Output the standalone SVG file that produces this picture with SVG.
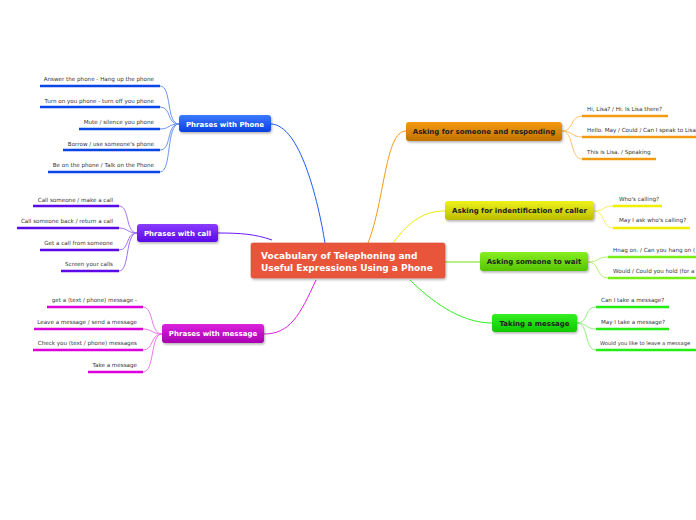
<svg xmlns="http://www.w3.org/2000/svg" width="696" height="520" viewBox="0 0 696 520">
<style>
.leaf{font-family:"DejaVu Sans",Verdana,sans-serif;font-size:5.6px;fill:#333}
.lt{font-family:"DejaVu Sans",Verdana,sans-serif;font-size:7px;font-weight:bold;text-anchor:middle}
.w{fill:#fff}
.d{fill:#222}
.c{fill:none;stroke-width:1}
.u{stroke-width:2.4;fill:none}
</style>
<defs>
<linearGradient id="gB" x1="0" y1="0" x2="0" y2="1"><stop offset="0" stop-color="#3a7bff"/><stop offset="1" stop-color="#0a3fe0"/></linearGradient>
<linearGradient id="gP" x1="0" y1="0" x2="0" y2="1"><stop offset="0" stop-color="#8a3cff"/><stop offset="1" stop-color="#5a0ae8"/></linearGradient>
<linearGradient id="gM" x1="0" y1="0" x2="0" y2="1"><stop offset="0" stop-color="#dd22dd"/><stop offset="1" stop-color="#a800b0"/></linearGradient>
<linearGradient id="gO" x1="0" y1="0" x2="0" y2="1"><stop offset="0" stop-color="#f59a10"/><stop offset="1" stop-color="#c07200"/></linearGradient>
<linearGradient id="gY" x1="0" y1="0" x2="0" y2="1"><stop offset="0" stop-color="#eef21a"/><stop offset="1" stop-color="#bcbc00"/></linearGradient>
<linearGradient id="gW" x1="0" y1="0" x2="0" y2="1"><stop offset="0" stop-color="#88ee22"/><stop offset="1" stop-color="#55c400"/></linearGradient>
<linearGradient id="gG" x1="0" y1="0" x2="0" y2="1"><stop offset="0" stop-color="#33f022"/><stop offset="1" stop-color="#10c800"/></linearGradient>
<filter id="sh" x="-10%" y="-20%" width="130%" height="160%"><feDropShadow dx="1" dy="1.5" stdDeviation="1" flood-color="#000" flood-opacity="0.3"/></filter>
</defs>

<g id="connectors">
<path class="c" stroke="#1a5cf0" d="M325,243 C318,200 300,125 271,124"/>
<path class="c" stroke="#6a1aff" d="M272,240 C255,234 240,233 218,233"/>
<path class="c" stroke="#e020e0" d="M316,280 C300,315 290,334 264,334"/>
<path class="c" stroke="#f59a10" d="M368,243 C385,200 385,131 406,131"/>
<path class="c" stroke="#e8ec00" d="M393,243 C410,220 425,211 445,211"/>
<path class="c" stroke="#77dd11" d="M445,262 L480,262"/>
<path class="c" stroke="#33ee22" d="M410,280 C430,300 460,323 492,323"/>
<g stroke="#6b95f5" class="c">
<path d="M160,86 C172,86 166,124 179,124"/>
<path d="M160,107 C172,107 166,124 179,124"/>
<path d="M160,129 C170,129 168,124 179,124"/>
<path d="M160,150 C172,150 166,124 179,124"/>
<path d="M160,172 C172,172 166,124 179,124"/>
</g>
<g stroke="#a070ff" class="c">
<path d="M119,206 C130,206 125,233 137,233"/>
<path d="M119,228 C128,228 127,233 137,233"/>
<path d="M119,250 C130,250 125,233 137,233"/>
<path d="M119,271 C130,271 125,233 137,233"/>
</g>
<g stroke="#ee77ee" class="c">
<path d="M143,307 C154,307 150,334 162,334"/>
<path d="M143,329 C152,329 152,334 162,334"/>
<path d="M143,350 C154,350 150,334 162,334"/>
<path d="M143,372 C155,372 150,334 162,334"/>
</g>
<g stroke="#ffc060" class="c">
<path d="M562,131 C574,131 570,116 582,116"/>
<path d="M562,131 C572,131 572,137 582,137"/>
<path d="M562,131 C574,131 570,159 582,159"/>
</g>
<g stroke="#f0f060" class="c">
<path d="M594,211 C605,211 602,206 613,206"/>
<path d="M594,211 C605,211 602,228 613,228"/>
</g>
<g stroke="#b0f070" class="c">
<path d="M588,262 C600,262 596,257 608,257"/>
<path d="M588,262 C600,262 596,278 608,278"/>
</g>
<g stroke="#90f080" class="c">
<path d="M577,323 C589,323 584,307 596,307"/>
<path d="M577,323 C587,323 586,329 596,329"/>
<path d="M577,323 C589,323 584,350 596,350"/>
</g>
</g>

<g id="center">
<rect x="251" y="243" width="194" height="35" rx="2" fill="#e8543b" stroke="#d84a30" stroke-width="0.6" filter="url(#sh)"/>
<text x="261" y="259" style="font-family:'DejaVu Sans',Verdana,sans-serif;font-size:9px;font-weight:bold" fill="#fff">Vocabulary of Telephoning and</text>
<text x="261" y="270.5" style="font-family:'DejaVu Sans',Verdana,sans-serif;font-size:9px;font-weight:bold" fill="#fff">Useful Expressions Using a Phone</text>
</g>

<g id="phrases-phone">
<rect x="179" y="115" width="92" height="17" rx="3" fill="url(#gB)" filter="url(#sh)"/>
<text class="lt w" x="225" y="126.5">Phrases with Phone</text>
</g>
<g id="phone-leaves">
<text class="leaf" x="154" y="81" text-anchor="end">Answer the phone - Hang up the phone</text>
<path class="u" stroke="#0a45e8" d="M40,86H160"/>
<text class="leaf" x="154" y="103" text-anchor="end">Turn on you phone - turn off you phone</text>
<path class="u" stroke="#0a45e8" d="M40,107H160"/>
<text class="leaf" x="154" y="124" text-anchor="end">Mute / silence you phone</text>
<path class="u" stroke="#0a45e8" d="M79,129H160"/>
<text class="leaf" x="154" y="146" text-anchor="end">Borrow / use someone's phone</text>
<path class="u" stroke="#0a45e8" d="M63,150H160"/>
<text class="leaf" x="154" y="167" text-anchor="end">Be on the phone / Talk on the Phone</text>
<path class="u" stroke="#0a45e8" d="M48,172H160"/>
</g>

<g id="phrases-call">
<rect x="137" y="224" width="81" height="18" rx="3" fill="url(#gP)" filter="url(#sh)"/>
<text class="lt w" x="177.5" y="236">Phrases with call</text>
</g>
<g id="call-leaves">
<text class="leaf" x="113" y="202" text-anchor="end">Call someone / make a call</text>
<path class="u" stroke="#5a0ae8" d="M33,206H119"/>
<text class="leaf" x="113" y="223" text-anchor="end">Call someone back / return a call</text>
<path class="u" stroke="#5a0ae8" d="M17,228H119"/>
<text class="leaf" x="113" y="245" text-anchor="end">Get a call from someone</text>
<path class="u" stroke="#5a0ae8" d="M40,250H119"/>
<text class="leaf" x="113" y="266" text-anchor="end">Screen your calls</text>
<path class="u" stroke="#5a0ae8" d="M61,271H119"/>
</g>

<g id="phrases-message">
<rect x="162" y="324" width="102" height="19" rx="3" fill="url(#gM)" filter="url(#sh)"/>
<text class="lt w" x="213" y="336">Phrases with message</text>
</g>
<g id="message-leaves">
<text class="leaf" x="137" y="302" text-anchor="end">get a (text / phone) message -</text>
<path class="u" stroke="#dd00dd" d="M47,307H143"/>
<text class="leaf" x="137" y="324" text-anchor="end">Leave a message / send a message</text>
<path class="u" stroke="#dd00dd" d="M34,329H143"/>
<text class="leaf" x="137" y="345" text-anchor="end">Check you (text / phone) messages</text>
<path class="u" stroke="#dd00dd" d="M33,350H143"/>
<text class="leaf" x="137" y="367" text-anchor="end">Take a message</text>
<path class="u" stroke="#dd00dd" d="M88,372H143"/>
</g>

<g id="asking-someone">
<rect x="406" y="122" width="156" height="19" rx="3" fill="url(#gO)" filter="url(#sh)"/>
<text class="lt d" x="484" y="134">Asking for someone and responding</text>
</g>
<g id="asking-leaves">
<text class="leaf" x="587" y="111">Hi, Lisa? / Hi. Is Lisa there?</text>
<path class="u" stroke="#f59a10" d="M582,116H668"/>
<text class="leaf" x="587" y="132">Hello. May / Could / Can I speak to Lisa</text>
<path class="u" stroke="#f59a10" d="M582,137H700"/>
<text class="leaf" x="587" y="154">This is Lisa. / Speaking</text>
<path class="u" stroke="#f59a10" d="M582,159H656"/>
</g>

<g id="identification">
<rect x="445" y="201" width="149" height="19" rx="3" fill="url(#gY)" filter="url(#sh)"/>
<text class="lt d" x="519.5" y="213">Asking for indentification of caller</text>
</g>
<g id="identification-leaves">
<text class="leaf" x="619" y="201">Who's calling?</text>
<path class="u" stroke="#eef000" d="M613,206H662"/>
<text class="leaf" x="619" y="222">May I ask who's calling?</text>
<path class="u" stroke="#eef000" d="M613,228H690"/>
</g>

<g id="wait">
<rect x="480" y="252" width="108" height="19" rx="3" fill="url(#gW)" filter="url(#sh)"/>
<text class="lt d" x="534" y="264">Asking someone to wait</text>
</g>
<g id="wait-leaves">
<text class="leaf" x="613" y="252">Hnag on. / Can you hang on (</text>
<path class="u" stroke="#77ee11" d="M608,257H700"/>
<text class="leaf" x="613" y="273">Would / Could you hold (for a</text>
<path class="u" stroke="#77ee11" d="M608,278H700"/>
</g>

<g id="taking">
<rect x="492" y="314" width="85" height="18" rx="3" fill="url(#gG)" filter="url(#sh)"/>
<text class="lt d" x="534.5" y="326">Taking a message</text>
</g>
<g id="taking-leaves">
<text class="leaf" x="601" y="302">Can I take a message?</text>
<path class="u" stroke="#22ee11" d="M596,307H669"/>
<text class="leaf" x="601" y="324">May I take a message?</text>
<path class="u" stroke="#22ee11" d="M596,329H669"/>
<text class="leaf" x="600" y="345" style="font-size:5.2px">Would you like to leave a message</text>
<path class="u" stroke="#22ee11" d="M596,350H700"/>
</g>
</svg>
